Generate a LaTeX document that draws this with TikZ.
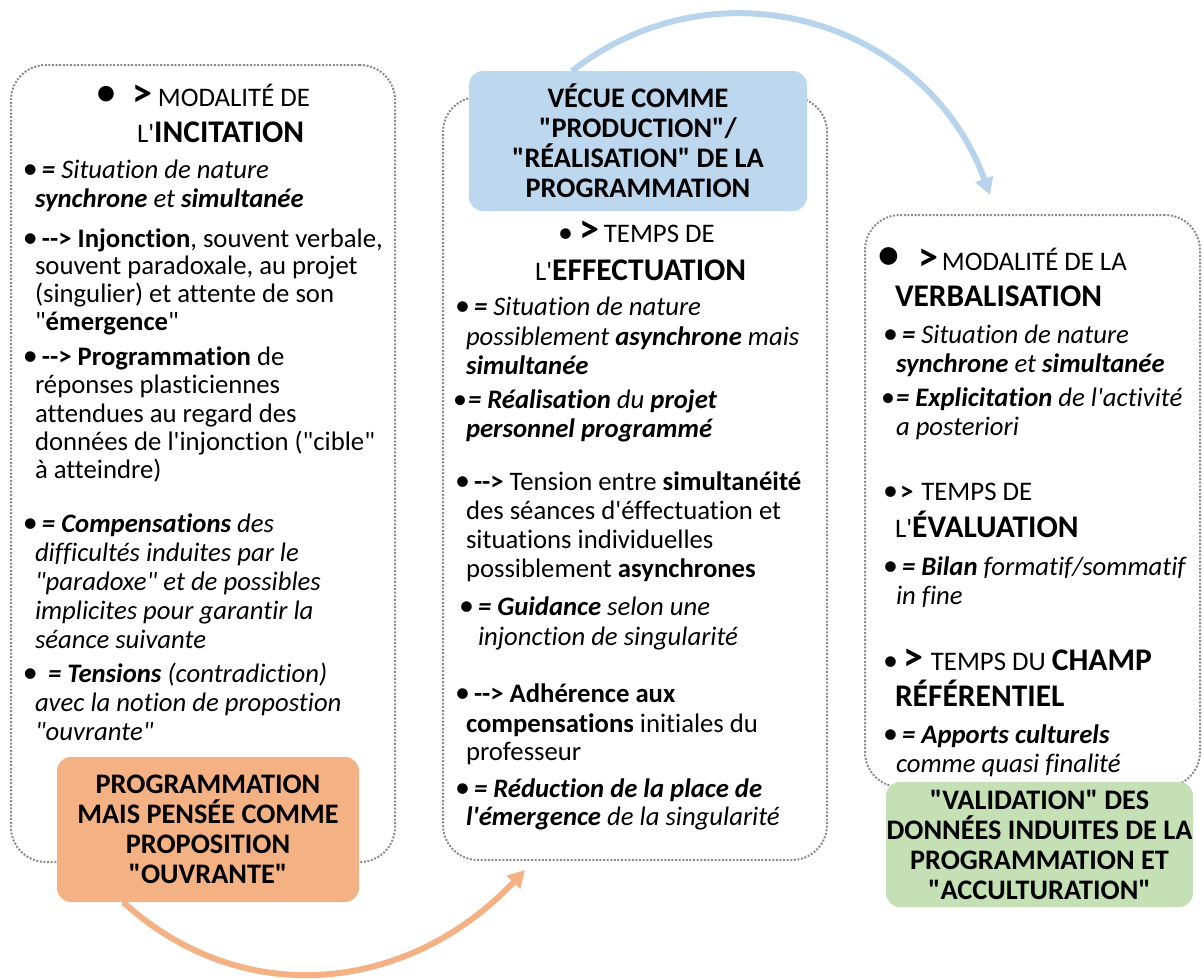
\documentclass[tikz,border=0pt]{standalone}
\usepackage{fontspec}
\setmainfont{Carlito}[Ligatures={TeXOff,CommonOff}]
\usetikzlibrary{arrows.meta}
\definecolor{dotgray}{RGB}{140,140,140}
\definecolor{orfill}{RGB}{244,177,131}
\definecolor{blfill}{RGB}{189,215,238}
\definecolor{grfill}{RGB}{197,224,180}
\definecolor{blarrow}{RGB}{184,211,236}
\newcommand\BB[1][44]{{\fontsize{#1}{#1}\selectfont •}}
\newcommand\GT{{\bfseries\fontsize{40}{40}\selectfont >}}
\newcommand\HR{\fontsize{26.8}{30}\selectfont}
\newcommand\HB{\bfseries\fontsize{31.5}{32}\selectfont}
\newcommand\bu[1][19pt]{\makebox[#1][l]{\fontsize{30}{30}\selectfont •}}
\newcommand\bs{\makebox[15pt][l]{\fontsize{28}{28}\selectfont •}}
\newcommand\bi[1]{\textbf{\textit{#1}}}
\begin{document}
\begin{tikzpicture}[x=1pt,y=-1pt,
  txt/.style={inner sep=0pt, outer sep=0pt, anchor=base west, font=\fontsize{26.7}{29}\selectfont},
  hd/.style={inner sep=0pt, outer sep=0pt, anchor=base west, font=\HR},
  dotbox/.style={draw=dotgray, line width=2pt, dash pattern=on 2pt off 1.6pt, rounded corners=35pt, inner sep=0pt},
  colbox/.style={rounded corners=14pt, inner sep=0pt, align=center, font=\bfseries\fontsize{28.3}{30}\selectfont},
  flow/.style={line width=6pt, -{Triangle[length=17pt,width=18pt]}}
]
\useasboundingbox (0,0) rectangle (1203,978);
\fill[white] (0,0) rectangle (1203,978);

% containers
\node[dotbox, minimum width=384pt, minimum height=797pt] (cL) at (203,463.5) {};
\node[dotbox, minimum width=384pt, minimum height=763pt] (cM) at (635,478.5) {};
\node[dotbox, minimum width=335pt, minimum height=572pt] (cR) at (1032.5,501) {};

% coloured boxes
\node[colbox, fill=orfill, minimum width=302pt, minimum height=145pt] (bO) at (208,829.5)
  {PROGRAMMATION\\MAIS PENSÉE COMME\\PROPOSITION\\"OUVRANTE"};
\node[colbox, fill=blfill, minimum width=338pt, minimum height=140pt] (bB) at (638,141)
  {VÉCUE COMME\\"PRODUCTION"/\\"RÉALISATION" DE LA\\PROGRAMMATION};
\node[colbox, fill=grfill, minimum width=307pt, minimum height=125pt] (bG) at (1039.5,844.5)
  {"VALIDATION" DES\\DONNÉES INDUITES DE LA\\PROGRAMMATION ET\\"ACCULTURATION"};

% arrows
\coordinate (oS) at (123,902);
\coordinate (oE) at (525,870);
\coordinate (bS) at (572,71);
\coordinate (bE) at (990,195);
\draw[flow, color=orfill] (oS) .. controls (244,1012) and (410,992) .. (oE);
\draw[flow, color=blarrow] (bS) .. controls (718,-43) and (927,21) .. (bE);

% ---------- left column ----------
\node[hd] (lh1) at (95,106) {\makebox[37pt][l]{\BB}\GT\hspace{6pt}MODALITÉ DE};
\node[hd] (lh2) at (137,142) {L'{\HB INCITATION}};
\node[txt] (l1) at (23,178) {\bu\bi{=} \textit{Situation de nature}};
\node[txt] (l2) at (35,207) {\bi{synchrone} \textit{et} \bi{simultanée}};
\node[txt] (l3) at (23,247) {\bu\textbf{--> Injonction}, souvent verbale,};
\node[txt] (l4) at (35,274) {souvent paradoxale, au projet};
\node[txt] (l5) at (35,302) {(singulier) et attente de son};
\node[txt] (l6) at (35,330) {"\textbf{émergence}"};
\node[txt] (l7) at (23,365) {\bu\textbf{--> Programmation} de};
\node[txt] (l8) at (35,393) {réponses plasticiennes};
\node[txt] (l9) at (35,422) {attendues au regard des};
\node[txt] (l10) at (35,450) {données de l'injonction ("cible"};
\node[txt] (l11) at (35,478) {à atteindre)};
\node[txt] (l12) at (23,532) {\bu\bi{= Compensations} \textit{des}};
\node[txt] (l13) at (35,561) {\textit{difficultés induites par le}};
\node[txt] (l14) at (35,590) {\textit{"paradoxe" et de possibles}};
\node[txt] (l15) at (35,619) {\textit{implicites pour garantir la}};
\node[txt] (l16) at (35,648) {\textit{séance suivante}};
\node[txt] (l17) at (23,682) {\bu[25pt]\bi{= Tensions} \textit{(contradiction)}};
\node[txt] (l18) at (35,711) {\textit{avec la notion de propostion}};
\node[txt] (l19) at (35,740) {\textit{"ouvrante"}};

% ---------- middle column ----------
\node[hd] (mh1) at (558,242) {\makebox[21pt][l]{\fontsize{30}{30}\selectfont •}\GT\hspace{5pt}TEMPS DE};
\node[hd] (mh2) at (535,280) {L'{\HB EFFECTUATION}};
\node[txt] (m1) at (455,315) {\bu\bi{=} \textit{Situation de nature}};
\node[txt] (m2) at (466,345) {\textit{possiblement} \bi{asynchrone} \textit{mais}};
\node[txt] (m3) at (466,374) {\bi{simultanée}};
\node[txt] (m4) at (453,408) {\bs\bi{= Réalisation} \textit{du} \bi{projet}};
\node[txt] (m5) at (466,437) {\bi{personnel programmé}};
\node[txt] (m6) at (455,490) {\bu\textbf{-->} Tension entre \textbf{simultanéité}};
\node[txt] (m7) at (466,519) {des séances d'éffectuation et};
\node[txt] (m8) at (466,548) {situations individuelles};
\node[txt] (m9) at (466,577) {possiblement \textbf{asynchrones}};
\node[txt] (m10) at (459,615) {\bu\bi{= Guidance} \textit{selon une}};
\node[txt] (m11) at (478,645) {\textit{injonction de singularité}};
\node[txt] (m12) at (455,702) {\bu\textbf{--> Adhérence aux}};
\node[txt] (m13) at (466,732) {\textbf{compensations} initiales du};
\node[txt] (m14) at (466,760) {professeur};
\node[txt] (m15) at (455,797) {\bu\bi{= Réduction de la place de}};
\node[txt] (m16) at (466,825) {\bi{l'émergence} \textit{de la singularité}};

% ---------- right column ----------
\node[hd] (rh1) at (876,270) {\makebox[42pt][l]{\BB[50]}\GT\hspace{4pt}MODALITÉ DE LA};
\node[hd] (rh2) at (895,306) {\HB VERBALISATION};
\node[txt] (r1) at (883,343) {\bu\bi{=} \textit{Situation de nature}};
\node[txt] (r2) at (896,372) {\bi{synchrone} \textit{et} \bi{simultanée}};
\node[txt] (r3) at (881,406) {\bs\bi{= Explicitation} \textit{de l'activité}};
\node[txt] (r4) at (896,435) {\textit{a posteriori}};
\node[hd] (rh3) at (883,500) {\makebox[17pt][l]{\fontsize{30}{30}\selectfont •}\textbf{>}\hspace{8pt}TEMPS DE};
\node[hd] (rh4) at (895,537) {L'{\HB ÉVALUATION}};
\node[txt] (r5) at (883,575) {\bu\bi{= Bilan} \textit{formatif/sommatif}};
\node[txt] (r6) at (896,604) {\textit{in fine}};
\node[hd] (rh5) at (883,670) {\makebox[20pt][l]{\fontsize{30}{30}\selectfont •}\GT\hspace{8pt}TEMPS DU {\HB CHAMP}};
\node[hd] (rh6) at (895,706) {\HB RÉFÉRENTIEL};
\node[txt] (r7) at (883,743) {\bu\bi{= Apports culturels}};
\node[txt] (r8) at (896,772) {\textit{comme quasi finalité}};
\end{tikzpicture}
\end{document}
